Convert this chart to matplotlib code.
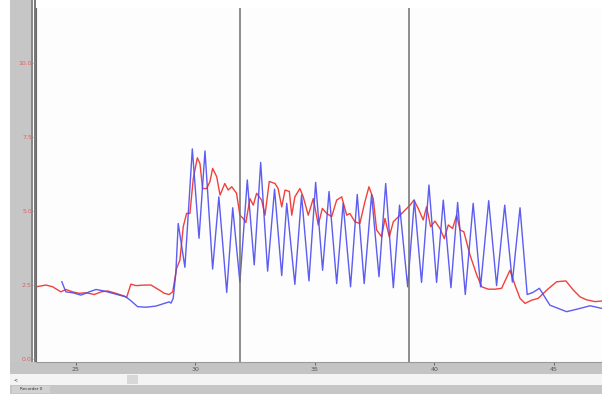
import matplotlib
matplotlib.use("Agg")
from matplotlib import pyplot as plt
from matplotlib.patches import Rectangle

# trace 1 (blue), seconds / volts
t_blue = [24.41, 24.58, 24.86, 25.21, 25.56, 25.84, 26.18, 26.54, 26.95, 27.09,
          27.30, 27.58, 27.93, 28.35, 28.70, 28.90, 28.98, 29.07, 29.18, 29.28,
          29.56, 29.87, 30.15, 30.40, 30.72, 30.98, 31.31, 31.56, 31.86, 32.17,
          32.46, 32.73, 33.02, 33.31, 33.61, 33.82, 34.16, 34.44, 34.75, 35.03,
          35.32, 35.59, 35.91, 36.18, 36.49, 36.77, 37.06, 37.37, 37.68, 37.96,
          38.28, 38.54, 38.88, 39.16, 39.46, 39.77, 40.09, 40.37, 40.69, 40.97,
          41.29, 41.62, 41.93, 42.27, 42.60, 42.94, 43.26, 43.58, 43.88, 44.12,
          44.39, 44.83, 45.53, 46.09, 46.51, 47.01]
v_blue = [2.61, 2.27, 2.24, 2.16, 2.27, 2.35, 2.30, 2.22, 2.13, 2.10,
          1.97, 1.77, 1.75, 1.79, 1.88, 1.93, 1.89, 2.05, 2.90, 4.58,
          3.10, 7.10, 4.08, 7.03, 3.04, 5.48, 2.25, 5.11, 2.60, 6.05,
          3.18, 6.64, 2.97, 5.74, 2.82, 5.26, 2.52, 5.54, 2.64, 5.97,
          3.00, 5.66, 2.55, 5.26, 2.44, 5.56, 2.55, 5.56, 2.78, 5.93,
          2.41, 5.20, 2.44, 5.37, 2.59, 5.88, 2.59, 5.37, 2.41, 5.29,
          2.18, 5.26, 2.44, 5.35, 2.48, 5.20, 2.60, 5.11, 2.18, 2.25,
          2.39, 1.82, 1.60, 1.71, 1.80, 1.71]

# trace 2 (red)
t_red = [23.33, 23.75, 24.03, 24.37, 24.58, 24.86, 25.14, 25.42, 25.77, 26.05,
         26.33, 26.67, 27.02, 27.12, 27.30, 27.51, 27.86, 28.14, 28.49, 28.70,
         28.90, 29.05, 29.21, 29.35, 29.49, 29.63, 29.77, 29.91, 30.08, 30.19,
         30.30, 30.47, 30.61, 30.72, 30.89, 31.03, 31.23, 31.37, 31.52, 31.72,
         31.86, 32.00, 32.11, 32.28, 32.42, 32.56, 32.77, 32.91, 33.09, 33.33,
         33.46, 33.61, 33.75, 33.93, 34.03, 34.16, 34.37, 34.51, 34.72, 34.93,
         35.14, 35.31, 35.49, 35.70, 35.91, 36.12, 36.33, 36.46, 36.67, 36.88,
         37.09, 37.26, 37.44, 37.58, 37.79, 37.93, 38.11, 38.28, 38.56, 38.77,
         38.98, 39.14, 39.32, 39.53, 39.67, 39.84, 40.02, 40.23, 40.41, 40.58,
         40.76, 40.93, 41.07, 41.23, 41.49, 41.77, 41.98, 42.25, 42.53, 42.81,
         43.16, 43.37, 43.58, 43.79, 44.07, 44.34, 44.70, 45.11, 45.50, 45.81,
         46.09, 46.37, 46.72, 47.01]
v_red = [2.44, 2.50, 2.44, 2.27, 2.35, 2.27, 2.22, 2.24, 2.18, 2.27,
         2.30, 2.22, 2.13, 2.08, 2.53, 2.48, 2.50, 2.50, 2.33, 2.22,
         2.18, 2.27, 3.06, 3.34, 4.47, 4.92, 4.92, 6.10, 6.80, 6.60,
         5.76, 5.76, 6.00, 6.44, 6.16, 5.54, 5.93, 5.71, 5.82, 5.60,
         4.86, 4.75, 4.61, 5.42, 5.20, 5.60, 5.37, 4.86, 6.00, 5.93,
         5.76, 5.14, 5.71, 5.66, 4.86, 5.48, 5.76, 5.48, 4.86, 5.42,
         4.53, 5.09, 4.92, 4.81, 5.37, 5.48, 4.86, 4.92, 4.64, 4.58,
         5.31, 5.82, 5.42, 4.36, 4.13, 4.75, 4.13, 4.64, 4.86, 5.03,
         5.20, 5.37, 5.09, 4.70, 5.14, 4.47, 4.66, 4.41, 4.07, 4.53,
         4.41, 4.86, 4.36, 4.30, 3.51, 2.84, 2.44, 2.36, 2.36, 2.39,
         3.00, 2.50, 2.05, 1.88, 1.99, 2.05, 2.33, 2.61, 2.64, 2.33,
         2.10, 2.00, 1.94, 1.96]

markers = [31.86, 38.92]
y_ticks = [0.0, 2.5, 5.0, 7.5, 10.0]
y_labels = ["0.0", "2.5", "5.0", "7.5", "10.0"]
x_ticks = [25, 30, 35, 40, 45]

W, H = 602, 394
fig = plt.figure(figsize=(W / 100, H / 100), dpi=100)
fig.patch.set_facecolor("white")


def box(x0, y0, x1, y1, color):
    # pixel box -> figure fraction, drawn under the axes
    fig.patches.append(Rectangle((x0 / W, 1 - y1 / H), (x1 - x0) / W, (y1 - y0) / H,
                                 transform=fig.transFigure, facecolor=color,
                                 edgecolor="none", zorder=-5))


box(10, 0, 33, 374, "#c6c6c6")
box(31, 0, 33, 362, "#8a8a8a")
box(34, 0, 36, 362, "#7a7a7a")
box(10, 362, 602, 374, "#c4c4c4")
box(10, 374, 602, 385, "#f4f4f4")
box(127, 375, 138, 384, "#d8d8d8")
box(10, 385, 602, 394, "#c6c6c6")
box(12, 386, 50, 393, "#d2d2d2")
fig.text(14 / W, 1 - 379.5 / H, "<", fontsize=3.5, color="#333333", va="center")
fig.text(20 / W, 1 - 389.5 / H, "Recorder 0", fontsize=3, color="#333333", va="center")

ax = fig.add_axes([36 / W, 1 - 362 / H, 566 / W, 354 / H])
ax.set_facecolor("#fdfdfd")
ax.plot(t_red, v_red, color="#f0413c", lw=1.0)
ax.plot(t_blue, v_blue, color="#4b4bf0", lw=1.0, alpha=0.9)
for m in markers:
    ax.axvline(m, color="#707070", lw=1.1)

ax.set_xlim(23.33, 47.01)
ax.set_ylim(-0.10, 11.86)
ax.set_yticks(y_ticks)
ax.set_yticklabels(y_labels)
ax.set_xticks(x_ticks)
ax.tick_params(axis="y", colors="#e06060", labelsize=4.5, length=2, pad=1, width=0.6)
ax.tick_params(axis="x", colors="#555555", labelsize=4.5, length=2, pad=1.5, width=0.6)
for side in ["top", "right"]:
    ax.spines[side].set_visible(False)
ax.spines["left"].set_color("#6a6a6a")
ax.spines["bottom"].set_color("#9a9a9a")

fig.savefig("out.png", dpi=100)
